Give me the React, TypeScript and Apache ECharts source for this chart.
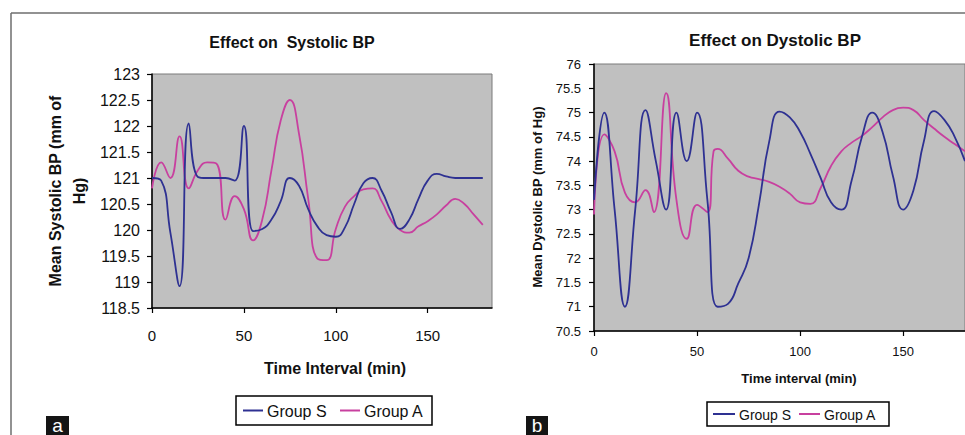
import React, { useEffect, useRef } from "react";
import * as echarts from "echarts";

const FONT = "'Liberation Sans', Arial, sans-serif";
const BLUE = "#2e3192";
const PINK = "#c8409f";

const seriesNames = ["Group S", "Group A"];
const xTicks = [0, 50, 100, 150];

// Panel a: Systolic BP
const sysTimeS = [0, 5, 10, 15, 20, 25, 30, 35, 40, 45, 50, 55, 60, 65, 70, 75, 80, 85, 90, 95, 100, 105, 110, 115, 120, 125, 130, 135, 140, 145, 150, 155, 160, 165, 170, 175, 180];
const sysS = [121.0, 120.95, 119.95, 118.92, 122.05, 121.02, 121.0, 121.0, 121.0, 120.95, 122.0, 119.98, 120.02, 120.2, 120.55, 121.0, 120.85, 120.4, 120.07, 119.9, 119.87, 120.05, 120.5, 120.9, 121.0, 120.75, 120.35, 120.02, 120.2, 120.6, 120.95, 121.08, 121.03, 121.0, 121.0, 121.0, 121.0];
const sysTimeA = [0, 5, 10, 15, 20, 25, 30, 35, 40, 45, 50, 55, 60, 65, 70, 75, 80, 85, 90, 95, 100, 105, 110, 115, 120, 125, 130, 135, 140, 145, 150, 155, 160, 165, 170, 175, 180];
const sysA = [120.8, 121.3, 121.0, 121.8, 120.8, 121.15, 121.3, 121.28, 120.2, 120.65, 120.4, 119.8, 120.2, 121.15, 122.1, 122.5, 121.85, 120.6, 119.45, 119.42, 120.02, 120.45, 120.65, 120.78, 120.8, 120.55, 120.2, 120.0, 119.95, 120.07, 120.17, 120.3, 120.47, 120.6, 120.5, 120.3, 120.1];
const sysYTicks = { min: 118.5, max: 123, step: 0.5 };

// Panel b: Diastolic BP
const diaTimeS = [0, 5, 10, 15, 20, 25, 30, 35, 40, 45, 50, 55, 60, 65, 70, 75, 80, 85, 90, 95, 100, 105, 110, 115, 120, 125, 130, 135, 140, 145, 150, 155, 160, 165, 170, 175, 180];
const diaS = [73.2, 75.0, 73.0, 71.0, 73.0, 75.05, 74.0, 73.0, 75.0, 74.0, 75.0, 73.2, 71.0, 71.06, 71.48, 72.0, 73.1, 74.4, 75.02, 74.9, 74.6, 74.15, 73.65, 73.15, 73.0, 73.6, 74.5, 75.0, 74.6, 73.7, 73.0, 73.4, 74.4, 75.03, 74.85, 74.5, 74.0];
const diaTimeA = [0, 5, 10, 15, 20, 25, 29, 35, 40, 45, 50, 55, 58, 60, 65, 70, 75, 80, 85, 90, 95, 100, 105, 110, 115, 120, 125, 130, 135, 140, 145, 150, 155, 160, 165, 170, 175, 180];
const diaA = [72.9, 74.55, 74.2, 73.35, 73.15, 73.4, 72.95, 75.4, 73.2, 72.4, 73.1, 72.95, 74.2, 74.25, 74.05, 73.8, 73.68, 73.63, 73.57, 73.47, 73.33, 73.15, 73.12, 73.45, 73.9, 74.2, 74.38, 74.52, 74.7, 74.9, 75.05, 75.1, 75.05, 74.85, 74.67, 74.5, 74.35, 74.2];
const diaYTicks = { min: 70.5, max: 76, step: 0.5 };

const pairs = (t: number[], v: number[]) => t.map((x, i) => [x, v[i]]);

function txt(text: string, x: number, y: number, size: number, opts: any = {}) {
  return {
    type: "text",
    x,
    y,
    rotation: opts.rotation || 0,
    silent: true,
    style: {
      text,
      x: 0,
      y: 0,
      fill: opts.fill || "#111",
      fontSize: size,
      fontWeight: opts.bold ? "bold" : "normal",
      fontFamily: FONT,
      lineHeight: opts.lineHeight,
      align: opts.align || "center",
      textAlign: opts.align || "center",
      verticalAlign: opts.va || "middle",
      textVerticalAlign: opts.va || "middle",
    },
  };
}

function legend(x: number, y: number, w: number, h: number, items: { x1: number; x2: number; tx: number }[], size: number) {
  const els: any[] = [
    { type: "rect", shape: { x, y, width: w, height: h }, style: { fill: "#fff", stroke: "#000", lineWidth: 1.5 } },
  ];
  const cy = y + h / 2;
  items.forEach((it, i) => {
    els.push({ type: "line", shape: { x1: it.x1, y1: cy, x2: it.x2, y2: cy }, style: { stroke: i === 0 ? BLUE : PINK, lineWidth: 2 } });
    els.push(txt(seriesNames[i], it.tx, cy + 1, size, { align: "left", fill: "#111" }));
  });
  return els;
}

export default function App() {
  const ref = useRef<HTMLDivElement>(null);
  useEffect(() => {
    if (!ref.current) return;
    const chart = echarts.init(ref.current, undefined, { renderer: "svg" });
    const axisLine = { show: true, onZero: false, lineStyle: { color: "#000", width: 1.5 } };
    const axisTick = (vals: number[]) => ({ show: true, inside: false, length: 5, lineStyle: { color: "#000", width: 1.2 }, customValues: vals });
    const yVals = (t: { min: number; max: number; step: number }) => {
      const out: number[] = [];
      for (let v = t.min; v <= t.max + 1e-9; v += t.step) out.push(Math.round(v * 10) / 10);
      return out;
    };
    const option: any = {
      animation: false,
      textStyle: { fontFamily: FONT },
      grid: [
        { left: 152, top: 74, width: 340, height: 234, show: true, backgroundColor: "#c0c0c0", borderColor: "#7a7a7a", borderWidth: 1, containLabel: false },
        { left: 594, top: 64, width: 371, height: 267, show: true, backgroundColor: "#c0c0c0", borderColor: "#7a7a7a", borderWidth: 1, containLabel: false },
      ],
      xAxis: [
        {
          type: "value", gridIndex: 0, min: 0, max: 185, interval: 50,
          axisLine, axisTick: axisTick(xTicks), splitLine: { show: false },
          axisLabel: { customValues: xTicks, fontSize: 15, color: "#111", margin: 20, fontFamily: FONT },
        },
        {
          type: "value", gridIndex: 1, min: 0, max: 180, interval: 50,
          axisLine, axisTick: axisTick(xTicks), splitLine: { show: false },
          axisLabel: { customValues: xTicks, fontSize: 13, color: "#111", margin: 14, fontFamily: FONT },
        },
      ],
      yAxis: [
        {
          type: "value", gridIndex: 0, min: sysYTicks.min, max: sysYTicks.max, interval: sysYTicks.step,
          axisLine, axisTick: axisTick(yVals(sysYTicks)), splitLine: { show: false },
          axisLabel: { fontSize: 16, color: "#111", margin: 12, fontFamily: FONT },
        },
        {
          type: "value", gridIndex: 1, min: diaYTicks.min, max: diaYTicks.max, interval: diaYTicks.step,
          axisLine, axisTick: axisTick(yVals(diaYTicks)), splitLine: { show: false },
          axisLabel: { fontSize: 13, color: "#111", margin: 13, fontFamily: FONT },
        },
      ],
      series: [
        { name: seriesNames[0], type: "line", xAxisIndex: 0, yAxisIndex: 0, data: pairs(sysTimeS, sysS), smooth: 0.5, showSymbol: false, lineStyle: { color: BLUE, width: 1.8 }, z: 3 },
        { name: seriesNames[1], type: "line", xAxisIndex: 0, yAxisIndex: 0, data: pairs(sysTimeA, sysA), smooth: 0.5, showSymbol: false, lineStyle: { color: PINK, width: 1.8 }, z: 2 },
        { name: seriesNames[0], type: "line", xAxisIndex: 1, yAxisIndex: 1, data: pairs(diaTimeS, diaS), smooth: 0.5, showSymbol: false, lineStyle: { color: BLUE, width: 1.8 }, z: 3 },
        { name: seriesNames[1], type: "line", xAxisIndex: 1, yAxisIndex: 1, data: pairs(diaTimeA, diaA), smooth: 0.5, showSymbol: false, lineStyle: { color: PINK, width: 1.8 }, z: 2 },
      ],
      graphic: [
        { type: "line", shape: { x1: 11, y1: 13, x2: 965, y2: 13 }, style: { stroke: "#6e6e6e", lineWidth: 1.5 } },
        { type: "line", shape: { x1: 11, y1: 13, x2: 11, y2: 435 }, style: { stroke: "#6e6e6e", lineWidth: 1.5 } },
        txt("Effect on  Systolic BP", 292, 42, 16, { bold: true }),
        txt("Effect on Dystolic BP", 775, 40, 17, { bold: true }),
        txt("Mean Systolic BP (mm of\nHg)", 67, 191, 16, { bold: true, rotation: Math.PI / 2, lineHeight: 24 }),
        txt("Mean Dystolic BP (mm of Hg)", 537, 197, 13, { bold: true, rotation: Math.PI / 2 }),
        txt("Time Interval (min)", 335, 368, 16, { bold: true }),
        txt("Time interval (min)", 799, 378, 13, { bold: true }),
        ...legend(236, 396, 196, 29, [{ x1: 243, x2: 263, tx: 267 }, { x1: 340, x2: 360, tx: 364 }], 16),
        ...legend(707, 402, 182, 24, [{ x1: 713, x2: 735, tx: 739 }, { x1: 799, x2: 820, tx: 824 }], 14),
        { type: "rect", shape: { x: 46, y: 416, width: 23, height: 21 }, style: { fill: "#151515" } },
        txt("a", 57.5, 435, 19, { fill: "#fff", va: "bottom" }),
        { type: "rect", shape: { x: 526, y: 416, width: 22, height: 21 }, style: { fill: "#151515" } },
        txt("b", 537, 435, 19, { fill: "#fff", va: "bottom" }),
      ],
    };
    chart.setOption(option);
    return () => chart.dispose();
  }, []);
  return <div ref={ref} style={{ position: "fixed", left: 0, top: 0, width: 965, height: 435, background: "#fff" }} />;
}
